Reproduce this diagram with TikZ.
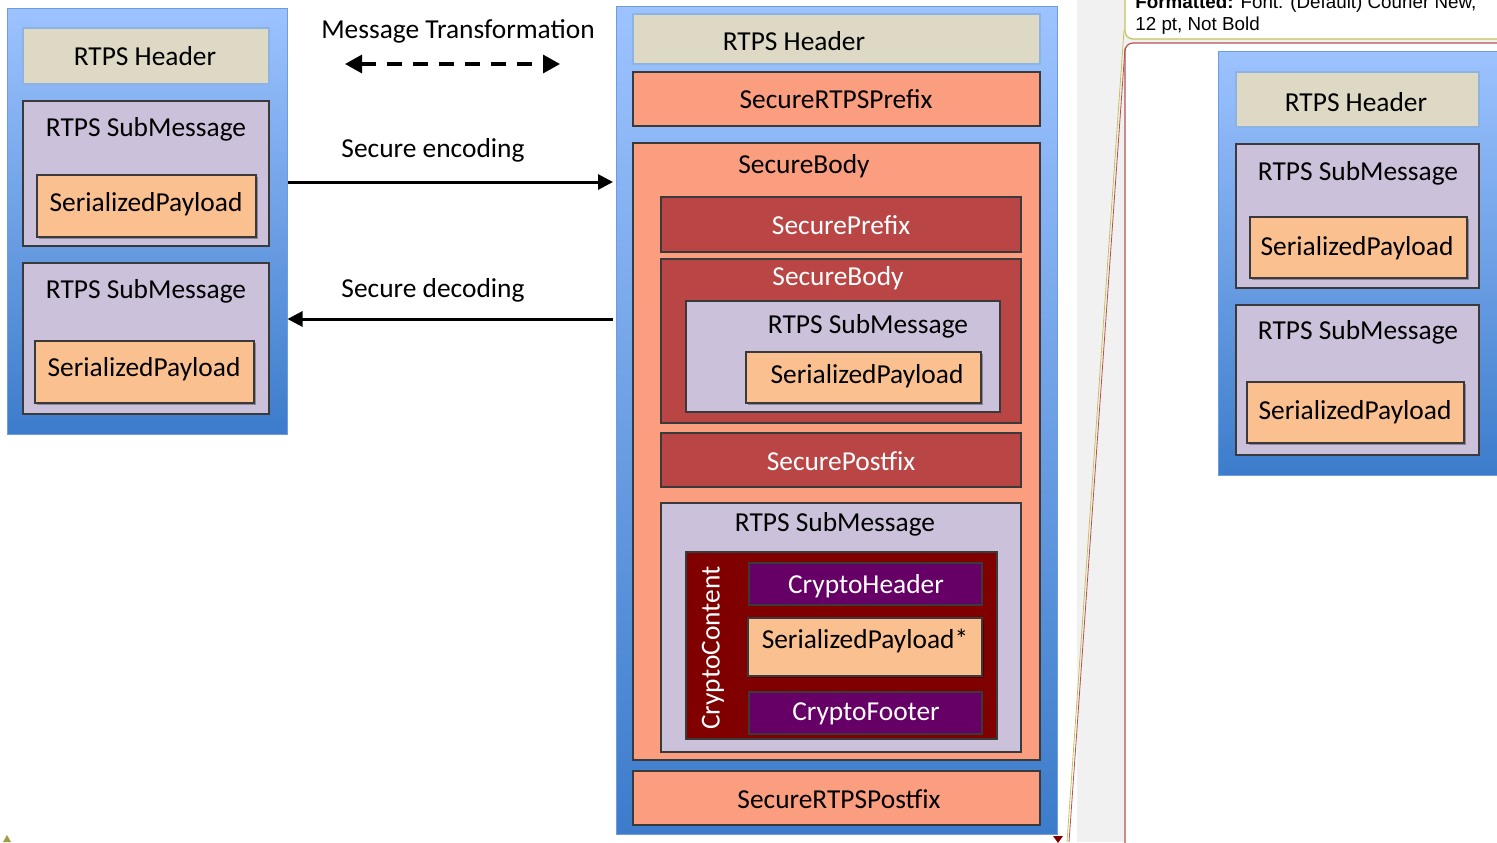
\documentclass[tikz,border=0pt]{standalone}
\usepackage{fontspec}
\setmainfont{Carlito}
\newfontfamily\arialf{Liberation Sans}
\usetikzlibrary{arrows.meta,fit,shadows}
\definecolor{bluetop}{HTML}{9DC3FF}
\definecolor{bluebot}{HTML}{3C7CCB}
\definecolor{blueedge}{HTML}{6F9BE0}
\definecolor{hdrfill}{HTML}{DDD9C4}
\definecolor{hdredge}{HTML}{8DB3E2}
\definecolor{lav}{HTML}{CCC1DA}
\definecolor{peach}{HTML}{FAC090}
\definecolor{salmon}{HTML}{FB9E80}
\definecolor{dred}{HTML}{B94545}
\definecolor{maroonc}{HTML}{800000}
\definecolor{purp}{HTML}{660066}
\definecolor{edgec}{HTML}{3A3A3A}
\definecolor{marginc}{HTML}{F1F1F1}
\definecolor{olivec}{HTML}{C4C45A}
\definecolor{balred}{HTML}{B85050}
\tikzset{
  bx/.style={inner sep=0pt, draw=edgec, line width=0.6pt},
  outerbox/.style={inner sep=0pt, draw=blueedge, line width=0.5pt, top color=bluetop, bottom color=bluebot},
  hdr/.style={bx, fill=hdrfill, draw=hdredge},
  sub/.style={bx, fill=lav},
  pay/.style={bx, fill=peach, drop shadow={shadow xshift=0.8pt, shadow yshift=-0.8pt, opacity=0.3, fill=black}},
  sal/.style={bx, fill=salmon},
  redbox/.style={bx, fill=dred},
  crypto/.style={bx, fill=maroonc},
  purpbox/.style={bx, fill=purp},
  txt/.style={font=\fontsize{13.7}{16}\selectfont, inner sep=0pt},
  wtxt/.style={txt, text=white},
  arr/.style={line width=1.5pt, -{Triangle[length=7.5pt,width=7.5pt]}},
  darr/.style={line width=1.6pt, dash pattern=on 7.5pt off 5.5pt, {Triangle[length=8.5pt,width=9pt]}-{Triangle[length=8.5pt,width=9pt]}},
  cmt/.style={font=\arialf\fontsize{9.4}{11}\selectfont, inner sep=0pt, anchor=base west}
}
\newcommand\mkbox[6]{\node[#1, fit={(#3,#4)(#5,#6)}] (#2) {};}
\begin{document}
\begin{tikzpicture}[x=0.5pt,y=-0.5pt]
\useasboundingbox (0,0) rectangle (1497,842);
\clip (0,0) rectangle (1497,842);
\fill[white] (0,0) rectangle (1497,842);
% Word margin
\fill[marginc] (1077,0) rectangle (1497,842);
\draw[olivec, line width=0.6pt, fill=white, rounded corners=4pt] (1125,-30) rectangle (1520,39);
\draw[balred, line width=0.6pt, fill=white, rounded corners=4pt] (1125,43) rectangle (1520,870);
\draw[olivec, line width=0.4pt] (1124,30) -- (1067,842);
\draw[balred, line width=0.4pt] (1125,48) -- (1069,842);
\node[cmt] (c1) at (1135,8.5) {\textbf{Formatted:} Font: (Default) Courier New,};
\node[cmt] (c2) at (1135,30.5) {12 pt, Not Bold};
\fill[maroonc] (1053,836) -- (1063,836) -- (1058,843) -- cycle;
\fill[olivec!80!black] (3,842) -- (11,842) -- (7,835) -- cycle;

% Left message
\mkbox{outerbox}{L}{7}{8}{287}{434}
\mkbox{hdr}{Lhdr}{23}{28}{269}{84}
\node[txt] (LhdrT) at (145,56) {RTPS Header};
\mkbox{sub}{Ls1}{23}{101}{269}{246}
\node[txt] (Ls1T) at (146,129) {RTPS SubMessage};
\mkbox{pay}{Lp1}{37}{175}{256}{237}
\node[txt] (Lp1T) at (146,204) {SerializedPayload};
\mkbox{sub}{Ls2}{23}{263}{269}{414}
\node[txt] (Ls2T) at (146,291) {RTPS SubMessage};
\mkbox{pay}{Lp2}{35}{341}{254}{403}
\node[txt] (Lp2T) at (144,369) {SerializedPayload};

% Middle message
\mkbox{outerbox}{M}{616}{6}{1057}{834}
\mkbox{hdr}{Mhdr}{633}{14}{1040}{64}
\node[txt] (MhdrT) at (794,41) {RTPS Header};
\mkbox{sal}{Mpre}{633}{72}{1040}{126}
\node[txt] (MpreT) at (836,99) {SecureRTPSPrefix};
\mkbox{sal}{Mbody}{633}{143}{1040}{760}
\node[txt] (MbodyT) at (804,166) {SecureBody};
\mkbox{redbox}{Spre}{661}{197}{1021}{252}
\node[wtxt] (SpreT) at (841,225) {SecurePrefix};
\mkbox{redbox}{Sbody}{661}{259}{1021}{423}
\node[wtxt] (SbodyT) at (838,278) {SecureBody};
\mkbox{sub}{Ssub}{686}{301}{1000}{412}
\node[txt] (SsubT) at (868,326) {RTPS SubMessage};
\mkbox{pay}{Spay}{746}{352}{981}{403}
\node[txt] (SpayT) at (867,376) {SerializedPayload};
\mkbox{redbox}{Spost}{661}{433}{1021}{487}
\node[wtxt] (SpostT) at (841,461) {SecurePostfix};
\mkbox{sub}{Csub}{661}{503}{1021}{752}
\node[txt] (CsubT) at (835,524) {RTPS SubMessage};
\mkbox{crypto}{Cc}{686}{552}{997}{739}
\node[wtxt, rotate=90] (CcT) at (713,648) {CryptoContent};
\mkbox{purpbox}{Ch}{749}{563}{982}{605}
\node[wtxt] (ChT) at (866,586) {CryptoHeader};
\mkbox{pay}{Cp}{748}{618}{982}{676}
\node[txt] (CpT) at (865,641) {SerializedPayload*};
\mkbox{purpbox}{Cf}{749}{692}{982}{734}
\node[wtxt] (CfT) at (866,714) {CryptoFooter};
\mkbox{sal}{Mpost}{633}{771}{1040}{825}
\node[txt] (MpostT) at (839,799) {SecureRTPSPostfix};

% Arrows and labels
\node[txt] (mtT) at (458,31) {Message Transformation};
\coordinate (dl) at (345,64);
\coordinate (dr) at (560,64);
\draw[darr] (dl) -- (dr);
\node[txt] (encT) at (433,150) {Secure encoding};
\coordinate (encR) at (613,182);
\draw[arr] (L.east |- encR) -- (encR);
\node[txt] (decT) at (433,290) {Secure decoding};
\coordinate (decR) at (613,319);
\draw[arr] (decR) -- (L.east |- decR);

% Right message (in comment balloon)
\mkbox{outerbox}{R}{1218}{51}{1540}{475}
\mkbox{hdr}{Rhdr}{1236}{72}{1479}{127}
\node[txt] (RhdrT) at (1356,102) {RTPS Header};
\mkbox{sub}{Rs1}{1236}{144}{1479}{288}
\node[txt] (Rs1T) at (1358,173) {RTPS SubMessage};
\mkbox{pay}{Rp1}{1250}{217}{1467}{278}
\node[txt] (Rp1T) at (1357,248) {SerializedPayload};
\mkbox{sub}{Rs2}{1236}{305}{1479}{455}
\node[txt] (Rs2T) at (1358,332) {RTPS SubMessage};
\mkbox{pay}{Rp2}{1247}{382}{1464}{443}
\node[txt] (Rp2T) at (1355,412) {SerializedPayload};
\end{tikzpicture}
\end{document}
